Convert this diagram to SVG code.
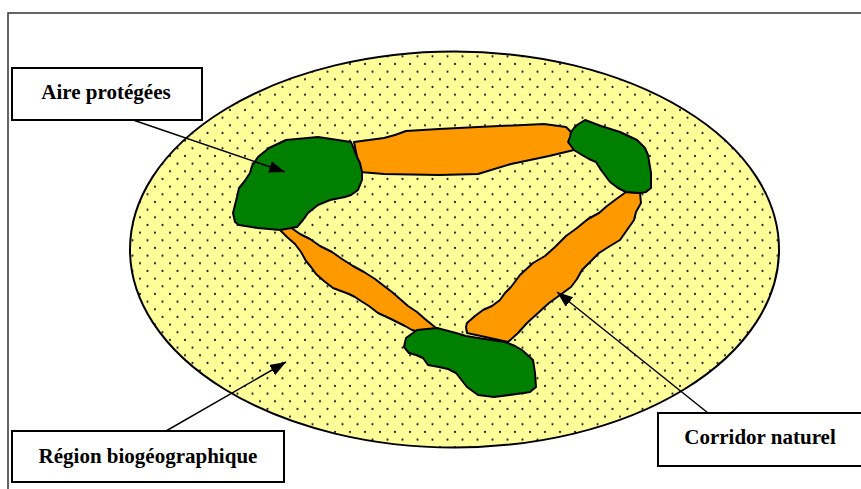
<svg xmlns="http://www.w3.org/2000/svg" width="861" height="489" viewBox="0 0 861 489">
<style>
.box{fill:#ffffff;stroke:#000000;stroke-width:2}
.lbl{font-family:"Liberation Serif","Times New Roman",serif;font-weight:bold;font-size:21px;fill:#000000;text-anchor:middle}
.green{fill:#007f00;stroke:#000000;stroke-width:2;stroke-linejoin:round}
.orange{fill:#ff9900;stroke:#000000;stroke-width:2;stroke-linejoin:round}
.conn{stroke:#000000;stroke-width:1.5;fill:none}
.dot{fill:#222222}
</style>
<defs>
<pattern id="dots" patternUnits="userSpaceOnUse" x="5" y="2.7" width="15" height="15.33">
<rect width="15" height="15.33" fill="#ffff99"/>
<circle class="dot" cx="0" cy="0" r="1.1"/>
<circle class="dot" cx="15" cy="0" r="1.1"/>
<circle class="dot" cx="0" cy="15.33" r="1.1"/>
<circle class="dot" cx="15" cy="15.33" r="1.1"/>
<circle class="dot" cx="7.5" cy="7.67" r="1.1"/>
</pattern>
<marker id="ah" markerUnits="userSpaceOnUse" markerWidth="18" markerHeight="14" refX="16" refY="6" orient="auto">
<path d="M0,0 L16,6 L0,12 Z" fill="#000000"/>
</marker>
</defs>
<rect x="8" y="13" width="870" height="490" fill="none" stroke="#333333" stroke-width="1.5"/>
<g id="region">
<ellipse cx="454.5" cy="249.5" rx="324.5" ry="198" fill="url(#dots)" stroke="#000000" stroke-width="2"/>
</g>
<g id="corridors">
<path class="orange" d="M354,142 L384,138 L395,135 L406,131 L439,129 L478,127 L544,124 L566,127 L571,132 L574,150 L549,156 L511,164 L478,174 L439,175 L384,174 L360,172 Z"/>
<path class="orange" d="M626,192 L640,193 L641,203 L636,212 L634,220 L627,230 L620,240 L610,246 L599,253 L590,262 L582,270 L577,279 L571,287 L560,295 L549,303 L538,313 L527,323 L518,333 L508,342 L490,338 L467,333 L466,327 L467,323 L475,316 L483,310 L492,306 L500,300 L505,293 L511,287 L520,275 L533,263 L545,256 L555,247 L566,236 L577,228 L588,219 L599,213 L607,206 L615,200 Z"/>
<path class="orange" d="M280,230 L290,227 L300,234 L310,239 L320,246 L332,252 L342,259 L353,266 L364,272 L375,279 L384,286 L392,292 L400,299 L408,306 L417,312 L425,319 L436,328 L423,333 L412,330 L405,326 L391,319 L378,313 L369,306 L361,301 L355,297 L349,294 L341,291 L333,288 L324,281 L316,274 L311,267 L306,261 L301,252 L295,244 L287,237 Z"/>
</g>
<g id="aires">
<path class="green" d="M351,142 L318,137 L286,140 L269,148 L258,157 L252,166 L250,173 L244,182 L239,188 L237,197 L233,213 L235,222 L239,225 L258,228 L280,230 L297,227 L303,220 L308,213 L318,205 L330,200 L345,197 L351,195 L358,190 L362,180 L362,172 L360,163 L357,157 Z"/>
<path class="green" d="M585,120 L601,126 L620,132 L637,140 L645,148 L648,155 L651,173 L651,188 L646,192 L640,193 L626,192 L618,188 L610,182 L601,170 L596,162 L589,159 L582,155 L574,150 L568,142 L570,137 L571,132 L574,128 L577,125 Z"/>
<path class="green" d="M417,330 L437,328 L456,333 L466,336 L478,338 L505,342 L515,346 L522,350 L533,360 L535,373 L536,387 L530,392 L524,393 L494,397 L478,395 L467,387 L456,373 L448,369 L439,367 L428,365 L423,358 L416,355 L409,353 L404,347 L406,338 Z"/>
</g>
<g id="connectors">
<line class="conn" x1="133" y1="120" x2="285" y2="172" marker-end="url(#ah)"/>
<line class="conn" x1="166" y1="431" x2="286" y2="362" marker-end="url(#ah)"/>
<line class="conn" x1="708" y1="413" x2="557" y2="292" marker-end="url(#ah)"/>
</g>
<g id="label-aire">
<rect class="box" x="12" y="68" width="190" height="52"/>
<text class="lbl" x="106" y="99">Aire protégées</text>
</g>
<g id="label-region">
<rect class="box" x="12" y="431" width="272" height="51"/>
<text class="lbl" x="148" y="463">Région biogéographique</text>
</g>
<g id="label-corridor">
<rect class="box" x="658" y="413" width="220" height="53"/>
<text class="lbl" x="760" y="444">Corridor naturel</text>
</g>
</svg>
